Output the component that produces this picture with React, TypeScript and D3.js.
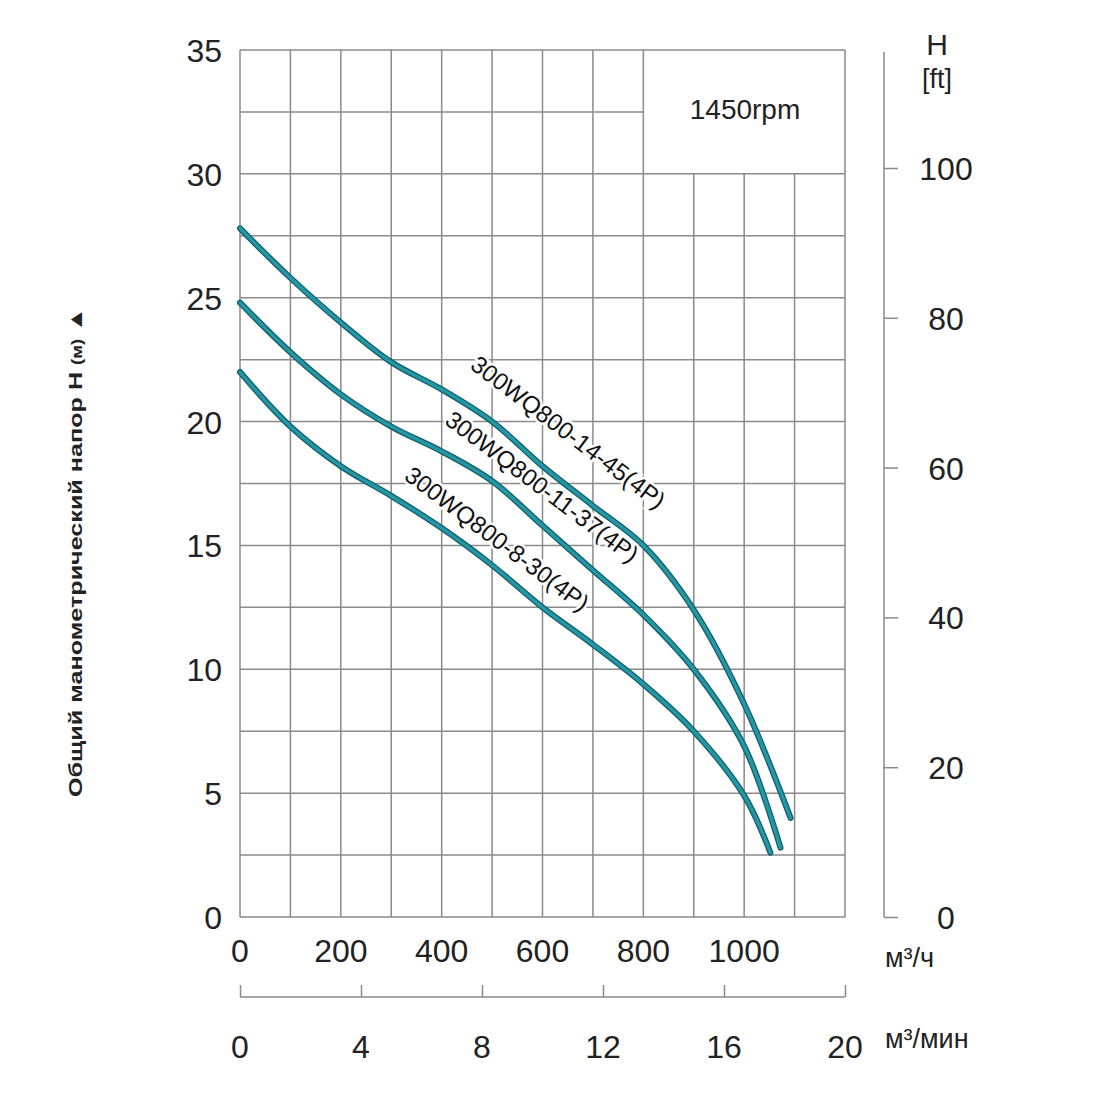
import React, { useRef, useEffect } from 'react'
import * as d3 from 'd3'

const flowTicks = [0, 200, 400, 600, 800, 1000]
const minTicks = [0, 4, 8, 12, 16, 20]
const headTicks = [0, 5, 10, 15, 20, 25, 30, 35]
const ftTicks = [0, 20, 40, 60, 80, 100]

const flow = [0, 100, 200, 300, 400, 500, 600, 700, 800, 900, 1000]
const head45 = [27.8, 25.8, 24.0, 22.4, 21.3, 20.0, 18.2, 16.6, 15.0, 12.4, 8.6]
const head37 = [24.8, 22.8, 21.1, 19.8, 18.8, 17.6, 15.8, 14.0, 12.2, 10.0, 6.9]
const head30 = [22.0, 19.8, 18.2, 17.0, 15.7, 14.2, 12.5, 11.0, 9.4, 7.5, 4.9]
const endPoints: [number, number][] = [[1092, 4.0], [1072, 2.8], [1052, 2.6]]
const names = ['300WQ800-14-45(4P)', '300WQ800-11-37(4P)', '300WQ800-8-30(4P)']
const labelPos: [number, number, number][] = [[641, 19.3, 37], [589, 17.1, 37], [500, 15.0, 37]]

const App: React.FC = () => {
  const svgRef = useRef<SVGSVGElement>(null)

  useEffect(() => {
    if (!svgRef.current) return
    const svg = d3.select(svgRef.current)
    svg.selectAll('*').remove()
    const font = '"Liberation Sans", Arial, sans-serif'
    const x = d3.scaleLinear().domain([0, 1200]).range([240, 845])
    const y = d3.scaleLinear().domain([0, 35]).range([917, 50])
    const yFt = d3.scaleLinear().domain([0, 100]).range([917, 168])
    const xMin = d3.scaleLinear().domain([0, 20]).range([240, 845])
    const grid = '#8a8a8a'

    // grid
    const g = svg.append('g').attr('stroke', grid).attr('stroke-width', 1.5)
    d3.range(0, 1201, 100).forEach(v => {
      const top = v > 800 && v < 1200 ? y(30) : y(35)
      g.append('line').attr('x1', x(v)).attr('x2', x(v)).attr('y1', top).attr('y2', y(0))
    })
    d3.range(0, 35.1, 2.5).forEach(v => {
      const right = v > 30 && v < 35 ? x(800) : x(1200)
      g.append('line').attr('x1', x(0)).attr('x2', right).attr('y1', y(v)).attr('y2', y(v))
    })
    svg.append('text').attr('x', 745).attr('y', 119).attr('text-anchor', 'middle')
      .style('font-family', font).style('font-size', '28px').attr('fill', '#222').text('1450rpm')

    // left axis labels
    headTicks.forEach(v => {
      svg.append('text').attr('x', 222).attr('y', y(v) + 12).attr('text-anchor', 'end')
        .style('font-family', font).style('font-size', '32px').attr('fill', '#222').text(v)
    })
    flowTicks.forEach(v => {
      svg.append('text').attr('x', x(v)).attr('y', 962).attr('text-anchor', 'middle')
        .style('font-family', font).style('font-size', '32px').attr('fill', '#222').text(v)
    })
    svg.append('text').attr('x', 885).attr('y', 967)
      .style('font-family', font).style('font-size', '27px').attr('fill', '#222').text('м³/ч')

    // m3/min axis
    const bottom = svg.append('g').attr('transform', 'translate(0,997)')
    bottom.call(d3.axisBottom(xMin).tickValues(minTicks).tickSize(-12).tickFormat(() => ''))
    bottom.selectAll('path,line').attr('stroke', grid).attr('stroke-width', 1.5)
    bottom.select('.domain').attr('d', `M${xMin(0)},0H${xMin(20)}`)
    minTicks.forEach(v => {
      svg.append('text').attr('x', xMin(v)).attr('y', 1058).attr('text-anchor', 'middle')
        .style('font-family', font).style('font-size', '32px').attr('fill', '#222').text(v)
    })
    svg.append('text').attr('x', 885).attr('y', 1048)
      .style('font-family', font).style('font-size', '27px').attr('fill', '#222').text('м³/мин')

    // right ft axis
    const right = svg.append('g').attr('transform', 'translate(884,0)')
    right.call(d3.axisRight(yFt).tickValues(ftTicks).tickSize(14).tickFormat(() => ''))
    right.selectAll('path,line').attr('stroke', grid).attr('stroke-width', 1.5)
    right.select('.domain').attr('d', `M0,52V917`)
    ftTicks.forEach(v => {
      svg.append('text').attr('x', 946).attr('y', yFt(v) + 12).attr('text-anchor', 'middle')
        .style('font-family', font).style('font-size', '32px').attr('fill', '#222').text(v)
    })
    svg.append('text').attr('x', 937).attr('y', 55).attr('text-anchor', 'middle')
      .style('font-family', font).style('font-size', '30px').attr('fill', '#222').text('H')
    svg.append('text').attr('x', 937).attr('y', 88).attr('text-anchor', 'middle')
      .style('font-family', font).style('font-size', '27px').attr('fill', '#222').text('[ft]')

    // y title
    const t = svg.append('text').attr('transform', 'translate(82,552) rotate(-90)').attr('text-anchor', 'middle')
      .attr('textLength', 490).attr('lengthAdjust', 'spacingAndGlyphs')
      .style('font-family', font).style('font-size', '19px').style('font-weight', 'bold').attr('fill', '#222')
    t.append('tspan').text('Общий манометрический напор H ')
    t.append('tspan').style('font-size', '14px').text('(м)')
    t.append('tspan').text('  ▲')

    // curves
    const line = d3.line<[number, number]>().x(d => x(d[0])).y(d => y(d[1])).curve(d3.curveCatmullRom)
    ;[head45, head37, head30].forEach((h, i) => {
      const pts: [number, number][] = flow.map((f, j) => [f, h[j]])
      pts.push(endPoints[i])
      svg.append('path').attr('d', line(pts)).attr('fill', 'none').attr('stroke', '#0f5f6a')
        .attr('stroke-width', 6).attr('stroke-linecap', 'round')
      svg.append('path').attr('d', line(pts)).attr('fill', 'none').attr('stroke', '#2596a3')
        .attr('stroke-width', 3.5).attr('stroke-linecap', 'round')
    })

    // curve labels
    names.forEach((n, i) => {
      const [fx, hy, ang] = labelPos[i]
      svg.append('text').attr('transform', `translate(${x(fx)},${y(hy)}) rotate(${ang})`)
        .attr('text-anchor', 'middle').style('font-family', font).style('font-size', '24px')
        .attr('fill', '#111').attr('stroke', '#fff').attr('stroke-width', 5).attr('paint-order', 'stroke')
        .text(n)
    })
  }, [])

  return <svg ref={svgRef} width={1100} height={1100} style={{ display: 'block', margin: '-8px 0 0 -8px' }} />
}

export default App
